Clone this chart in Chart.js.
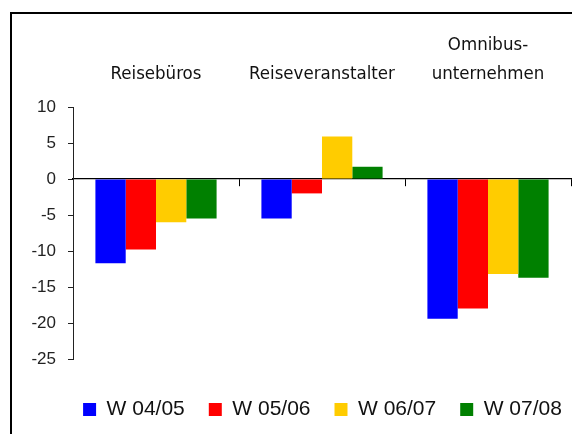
<!DOCTYPE html>
<html>
<head>
<meta charset="utf-8">
<script src="https://cdn.jsdelivr.net/npm/chart.js@4/dist/chart.umd.min.js"></script>
<style>
  html, body { margin: 0; padding: 0; background: #fff; overflow: hidden; }
  #wrap { position: relative; width: 572px; height: 434px; overflow: hidden; }
  #frame { position: absolute; left: 10px; top: 12px; width: 700px; height: 600px;
           border-left: 2px solid #000; border-top: 2px solid #000; }
  #c { position: absolute; left: 0; top: 0; }
</style>
</head>
<body>
<div id="wrap">
  <div id="frame"></div>
  <canvas id="c" width="572" height="434"></canvas>
</div>
<script>
// ---- data ----
const categories = [['', 'Reisebüros'], ['', 'Reiseveranstalter'], ['Omnibus-', 'unternehmen']];
const seriesNames = ['W 04/05', 'W 05/06', 'W 06/07', 'W 07/08'];
const seriesColors = ['#0000FF', '#FF0000', '#FFCC00', '#008000'];
const w0405 = [-11.7, -5.5, -19.4];
const w0506 = [-9.8, -2.0, -18.0];
const w0607 = [-6.0, 5.9, -13.2];
const w0708 = [-5.5, 1.7, -13.7];
const yMin = -25, yMax = 10, yStep = 5;

const seriesValues = [w0405, w0506, w0607, w0708];

// centre the legend row under the plot area (not the whole canvas) without wrapping
const legendShift = {
  id: 'legendShift',
  beforeDraw(chart) {
    if (chart.legend) {
      chart.legend.left = chart.chartArea.left - 40;
      chart.legend.right = chart.width + 40;
    }
  }
};

new Chart(document.getElementById('c'), {
  type: 'bar',
  data: {
    labels: categories,
    datasets: seriesNames.map((n, i) => ({
      label: n,
      data: seriesValues[i],
      backgroundColor: seriesColors[i],
      borderWidth: 0,
      barPercentage: 1.0,
      categoryPercentage: 0.73,
      xAxisID: 'x'
    }))
  },
  options: {
    responsive: false,
    devicePixelRatio: 1,
    animation: false,
    layout: { padding: { left: 0, right: 1, top: 0, bottom: 4 } },
    plugins: {
      tooltip: { enabled: false },
      legend: {
        position: 'bottom',
        labels: {
          boxWidth: 13, boxHeight: 13, padding: 24, color: '#111',
          font: { family: 'Liberation Sans', size: 21 }
        }
      }
    },
    scales: {
      x: {
        type: 'category',
        position: { y: 0 },
        z: 1,
        offset: true,
        border: { display: true, color: '#000', width: 1.2 },
        grid: { display: true, drawOnChartArea: false, drawTicks: true, tickLength: 7, color: '#000', offset: true, lineWidth: 1 },
        ticks: { display: false }
      },
      xBottom: {
        type: 'category',
        position: 'bottom',
        labels: categories,
        offset: true,
        border: { display: false },
        grid: { display: false, drawTicks: false },
        ticks: { display: false },
        afterFit(scale) { scale.height = 16; }
      },
      xTop: {
        type: 'category',
        position: 'top',
        labels: categories,
        offset: true,
        border: { display: false },
        grid: { display: false, drawTicks: false },
        ticks: {
          padding: 18.5, color: '#111', maxRotation: 0, autoSkip: false,
          font: { family: 'DejaVu Sans Condensed', size: 18.5, lineHeight: '29px' }
        },
        afterFit(scale) { scale.height = 107; }
      },
      y: {
        min: yMin, max: yMax,
        border: { display: true, color: '#222', width: 1 },
        grid: { drawOnChartArea: false, drawTicks: true, tickLength: 5, color: '#222' },
        ticks: {
          stepSize: yStep, padding: 12, color: '#222',
          font: { family: 'Liberation Sans', size: 17 }
        },
        afterFit(scale) { scale.width = 73; }
      }
    }
  },
  plugins: [legendShift]
});
</script>
</body>
</html>
